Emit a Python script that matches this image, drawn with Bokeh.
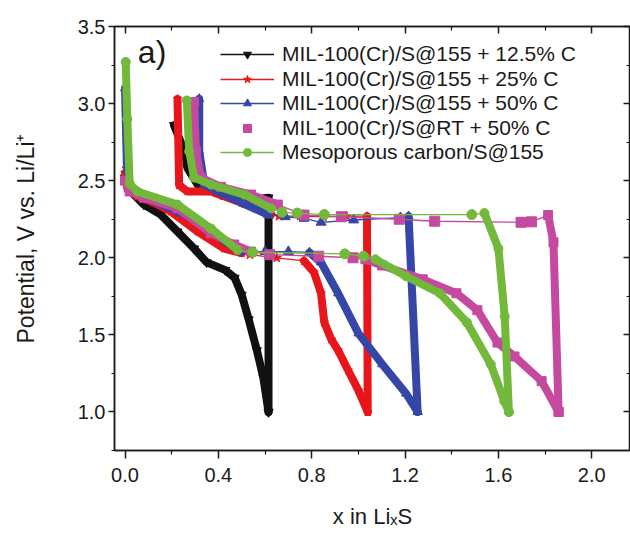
from bokeh.plotting import figure
from bokeh.models import (Range1d, LinearAxis, FixedTicker, PrintfTickFormatter,
                          CustomJSTickFormatter, Legend, LegendItem, Label)
from bokeh.embed import file_html
from bokeh.resources import INLINE

FONT = "Liberation Sans"
AX = "#1a1a1a"

# ---------------- data ----------------
x_ticks = [0.0, 0.4, 0.8, 1.2, 1.6, 2.0]
x_minor = [0.2, 0.6, 1.0, 1.4, 1.8, 2.2]
y_ticks = [1.0, 1.5, 2.0, 2.5, 3.0, 3.5]
y_minor = [0.75, 1.25, 1.75, 2.25, 2.75, 3.25]

labels = ["MIL-100(Cr)/S@155 + 12.5% C", "MIL-100(Cr)/S@155 + 25% C",
          "MIL-100(Cr)/S@155 + 50% C", "MIL-100(Cr)/S@RT + 50% C",
          "Mesoporous carbon/S@155"]

# black: 12.5 % C
blk_dis_x = [0.0, 0.003, 0.024, 0.081, 0.153, 0.225, 0.296, 0.35, 0.43, 0.47, 0.50, 0.53, 0.565, 0.593, 0.615]
blk_dis_y = [2.52, 2.49, 2.43, 2.345, 2.28, 2.17, 2.06, 1.97, 1.92, 1.87, 1.76, 1.60, 1.40, 1.22, 1.0]
blk_chg_x = [0.615, 0.615, 0.51, 0.411, 0.311, 0.268, 0.255, 0.21]
blk_chg_y = [1.0, 2.39, 2.37, 2.41, 2.475, 2.58, 2.69, 2.86]

# red: 25 % C
red_dis_x = [0.0, 0.01, 0.05, 0.12, 0.196, 0.311, 0.425, 0.50, 0.535, 0.65, 0.767, 0.81, 0.84, 0.854, 0.884, 0.913, 0.956, 1.0, 1.04]
red_dis_y = [2.55, 2.45, 2.40, 2.36, 2.30, 2.17, 2.06, 2.03, 2.02, 2.0, 1.98, 1.905, 1.77, 1.58, 1.47, 1.40, 1.27, 1.14, 1.0]
red_chg_x = [1.04, 1.037, 0.95, 0.85, 0.75, 0.66, 0.626, 0.511, 0.368, 0.268, 0.232, 0.225]
red_chg_y = [1.0, 2.27, 2.27, 2.265, 2.27, 2.27, 2.28, 2.35, 2.43, 2.43, 2.47, 3.03]

# blue: 50 % C
blu_dis_x = [0.0, 0.008, 0.02, 0.06, 0.12, 0.196, 0.311, 0.425, 0.497, 0.60, 0.70, 0.79, 0.84, 0.913, 1.0, 1.102, 1.204, 1.254]
blu_dis_y = [3.1, 2.6, 2.45, 2.41, 2.37, 2.32, 2.24, 2.11, 2.04, 2.04, 2.04, 2.035, 1.97, 1.77, 1.51, 1.31, 1.12, 1.0]
blu_chg_x = [1.254, 1.215, 1.18, 0.98, 0.84, 0.767, 0.687, 0.612, 0.51, 0.397, 0.34, 0.318, 0.318]
blu_chg_y = [1.0, 2.27, 2.26, 2.245, 2.23, 2.255, 2.266, 2.28, 2.35, 2.43, 2.475, 2.69, 3.03]

# magenta: RT + 50 % C
mag_dis_x = [0.0, 0.02, 0.081, 0.225, 0.368, 0.468, 0.54, 0.62, 0.83, 0.977, 1.03, 1.102, 1.276, 1.42, 1.51, 1.596, 1.669, 1.785, 1.858]
mag_dis_y = [2.5, 2.43, 2.39, 2.32, 2.16, 2.086, 2.04, 2.02, 2.01, 2.0, 1.99, 1.95, 1.86, 1.77, 1.66, 1.45, 1.36, 1.20, 1.0]
mag_chg_x = [1.858, 1.836, 1.813, 1.742, 1.697, 1.327, 1.175, 0.927, 0.767, 0.655, 0.54, 0.411, 0.325, 0.304, 0.296]
mag_chg_y = [1.0, 2.1, 2.277, 2.233, 2.23, 2.237, 2.25, 2.266, 2.277, 2.345, 2.41, 2.46, 2.52, 2.69, 3.01]

# green: mesoporous carbon
grn_dis_x = [0.003, 0.01, 0.02, 0.053, 0.225, 0.368, 0.483, 0.547, 0.942, 1.022, 1.073, 1.204, 1.349, 1.465, 1.567, 1.625, 1.645]
grn_dis_y = [3.27, 2.9, 2.48, 2.43, 2.345, 2.19, 2.05, 2.036, 2.025, 2.01, 1.99, 1.88, 1.77, 1.58, 1.31, 1.07, 1.0]
grn_chg_x = [1.645, 1.627, 1.60, 1.54, 1.486, 0.854, 0.738, 0.673, 0.626, 0.511, 0.368, 0.296, 0.275, 0.265]
grn_chg_y = [1.0, 1.62, 2.06, 2.29, 2.28, 2.28, 2.29, 2.295, 2.32, 2.41, 2.475, 2.52, 2.69, 3.02]

# index ranges (end of first dense part, start of second) where points are sparse
gaps = {
    "blk": (None, None),
    "red": ((7, 10), (1, 6)),
    "blu": ((8, 11), (1, 7)),
    "mag": ((6, 10), (2, 9)),
    "grn": ((6, 10), (3, 8)),
}

series = [
    ("blk", labels[0], "#111111", "inverted_triangle", blk_dis_x, blk_dis_y, blk_chg_x, blk_chg_y, True),
    ("red", labels[1], "#e8161b", "star", red_dis_x, red_dis_y, red_chg_x, red_chg_y, True),
    ("blu", labels[2], "#3546a6", "triangle", blu_dis_x, blu_dis_y, blu_chg_x, blu_chg_y, True),
    ("mag", labels[3], "#c4499f", "square", mag_dis_x, mag_dis_y, mag_chg_x, mag_chg_y, False),
    ("grn", labels[4], "#72b83a", "circle", grn_dis_x, grn_dis_y, grn_chg_x, grn_chg_y, True),
]

# legend row centres (pixels from the top of the picture)
legend_rows = [55, 79.5, 104, 128.5, 153]

# ---------------- figure ----------------
p = figure(width=630, height=534, output_backend="svg", toolbar_location=None,
           x_range=Range1d(-0.045, 2.166), y_range=Range1d(0.75, 3.5),
           min_border_left=114, min_border_top=26, min_border_bottom=84, min_border_right=0)
p.grid.visible = False
p.outline_line_color = AX
p.outline_line_width = 1.5
p.background_fill_color = "white"
p.border_fill_color = "white"


def style_axis(ax, labels_on=True):
    ax.axis_line_color = AX
    ax.axis_line_width = 1.5
    ax.major_tick_line_color = AX
    ax.minor_tick_line_color = AX
    ax.major_tick_line_width = 1.5
    ax.minor_tick_line_width = 1.2
    ax.major_label_text_font = FONT
    ax.major_label_text_color = AX
    ax.axis_label_text_font = FONT
    ax.axis_label_text_font_style = "normal"
    ax.axis_label_text_color = AX
    if not labels_on:
        ax.formatter = CustomJSTickFormatter(code="return ''")
        ax.major_label_text_font_size = "10px"
        ax.major_label_standoff = 0


xb = p.xaxis[0]
style_axis(xb)
xb.ticker = FixedTicker(ticks=x_ticks, minor_ticks=x_minor)
xb.formatter = PrintfTickFormatter(format="%.1f")
xb.major_label_text_font_size = "20px"
xb.major_tick_in = 0
xb.major_tick_out = 8
xb.minor_tick_in = 0
xb.minor_tick_out = 4
xb.major_label_standoff = 9
xb.axis_label = "x in LiₓS"
xb.axis_label_text_font_size = "22px"
xb.axis_label_standoff = 19

yl = p.yaxis[0]
style_axis(yl)
yl.ticker = FixedTicker(ticks=y_ticks, minor_ticks=y_minor)
yl.formatter = PrintfTickFormatter(format="%.1f")
yl.major_label_text_font_size = "20px"
yl.major_tick_in = 0
yl.major_tick_out = 6
yl.minor_tick_in = 0
yl.minor_tick_out = 3
yl.major_label_standoff = 3
yl.axis_label = "Potential, V vs. Li/Li⁺"
yl.axis_label_text_font_size = "23px"
yl.axis_label_standoff = 36

xt = LinearAxis(ticker=FixedTicker(ticks=x_ticks, minor_ticks=x_minor))
style_axis(xt, labels_on=False)
xt.major_tick_in = 7
xt.major_tick_out = 0
xt.minor_tick_in = 4
xt.minor_tick_out = 0
p.add_layout(xt, "above")

yr = LinearAxis(ticker=FixedTicker(ticks=y_ticks, minor_ticks=y_minor))
style_axis(yr, labels_on=False)
yr.major_tick_in = 7
yr.major_tick_out = 0
yr.minor_tick_in = 4
yr.minor_tick_out = 0
p.add_layout(yr, "right")

# ---------------- curves ----------------
legend_items = []
for key, lab, col, mk, dx, dy, cx, cy, show_line in series:
    gd, gc = gaps[key]
    thin_first = None
    scat_first = None
    sparse_first = None
    for xs, ys, g in ((dx, dy, gd), (cx, cy, gc)):
        thin = p.line(xs, ys, line_color=col, line_width=1.3)
        thin_first = thin_first or thin
        if g is None:
            parts = [(xs, ys)]
            sparse_x, sparse_y = [], []
        else:
            a, b = g
            parts = [(xs[:a + 1], ys[:a + 1]), (xs[b:], ys[b:])]
            sparse_x, sparse_y = xs[a + 1:b], ys[a + 1:b]
        for px_, py_ in parts:
            p.line(px_, py_, line_color=col, line_width=8, line_join="round", line_cap="round")
            sc = p.scatter(px_, py_, marker=mk, size=9, fill_color=col, line_color=col)
            scat_first = scat_first or sc
        if sparse_x:
            sp = p.scatter(sparse_x, sparse_y, marker=mk, size=10, fill_color=col, line_color=col)
            sparse_first = sparse_first or sp
    mark_r = sparse_first or scat_first
    rends = [thin_first, mark_r] if show_line else [mark_r]
    legend_items.append(LegendItem(label=lab, renderers=rends))

# one single-row legend per entry, so that the row spacing can follow the picture
FRAME_BOTTOM = 451
HALF_ROW = 12.2
for item, row in zip(legend_items, legend_rows):
    lg = Legend(items=[item], location=(106, FRAME_BOTTOM - HALF_ROW - row),
                glyph_width=54, glyph_height=20, label_height=20,
                label_standoff=8, padding=0, spacing=0, margin=0,
                border_line_color=None, background_fill_alpha=0,
                label_text_font=FONT, label_text_font_size="21px",
                label_text_color=AX)
    p.add_layout(lg)

p.add_layout(Label(x=0.055, y=3.335, text="a)", text_font=FONT, text_font_size="32px",
                   text_baseline="middle", text_color=AX))

open("out.html", "w").write(file_html(p, INLINE))
